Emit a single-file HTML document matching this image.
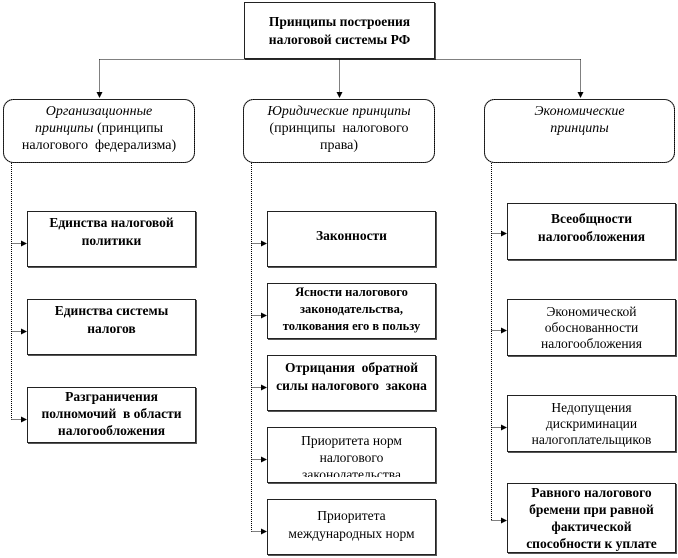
<!DOCTYPE html>
<html><head><meta charset="utf-8">
<style>
body{margin:0;width:678px;height:558px;background:#fff;position:relative;overflow:hidden;font-family:"Liberation Serif","DejaVu Serif",serif;color:#000}
.t{position:absolute;display:flex;align-items:center;justify-content:center;text-align:center;font-size:13px;line-height:16px;overflow:hidden;font-family:"Liberation Serif","DejaVu Serif",serif}
.b{font-weight:bold;font-size:13.5px}
.i{font-style:italic}
svg{position:absolute;left:0;top:0}
</style></head><body>
<svg width="678" height="558" viewBox="0 0 678 558">
<defs><marker id="a" markerWidth="6" markerHeight="6" refX="5" refY="3" orient="auto" markerUnits="userSpaceOnUse"><path d="M0,0L6,3L0,6z" fill="#000"/></marker></defs>
<g fill="#555">
<rect x="245" y="3" width="191" height="57"/>
<rect x="28" y="212" width="169" height="56"/><rect x="28" y="300" width="169" height="56"/><rect x="28" y="388" width="169" height="56"/>
<rect x="268" y="212" width="169" height="56"/><rect x="268" y="284" width="169" height="56"/><rect x="268" y="356" width="169" height="56"/><rect x="268" y="428" width="169" height="56"/><rect x="268" y="500" width="169" height="56"/>
<rect x="508" y="204" width="169" height="57"/><rect x="508" y="300" width="169" height="57"/><rect x="508" y="396" width="169" height="57"/><rect x="508" y="484" width="169" height="70"/>
</g>
<g fill="#fff" stroke="#444" stroke-width="1">
<rect x="244.5" y="2.5" width="190" height="56"/>
<rect x="3.5" y="99.5" width="191" height="63" rx="10"/>
<rect x="243.5" y="99.5" width="191" height="63" rx="10"/>
<rect x="484.5" y="99.5" width="190" height="63" rx="10"/>
<rect x="27.5" y="211.5" width="168" height="55"/><rect x="27.5" y="299.5" width="168" height="55"/><rect x="27.5" y="387.5" width="168" height="55"/>
<rect x="267.5" y="211.5" width="168" height="55"/><rect x="267.5" y="283.5" width="168" height="55"/><rect x="267.5" y="355.5" width="168" height="55"/><rect x="267.5" y="427.5" width="168" height="55"/><rect x="267.5" y="499.5" width="168" height="55"/>
<rect x="507.5" y="203.5" width="168" height="56"/><rect x="507.5" y="299.5" width="168" height="56"/><rect x="507.5" y="395.5" width="168" height="56"/><rect x="507.5" y="483.5" width="168" height="69"/>
</g>
<g fill="none" stroke="#000" stroke-width="1" stroke-dasharray="1,1">
<rect x="244.5" y="2.5" width="190" height="56"/>
<rect x="3.5" y="99.5" width="191" height="63" rx="10"/>
<rect x="243.5" y="99.5" width="191" height="63" rx="10"/>
<rect x="484.5" y="99.5" width="190" height="63" rx="10"/>
<rect x="27.5" y="211.5" width="168" height="55"/><rect x="27.5" y="299.5" width="168" height="55"/><rect x="27.5" y="387.5" width="168" height="55"/>
<rect x="267.5" y="211.5" width="168" height="55"/><rect x="267.5" y="283.5" width="168" height="55"/><rect x="267.5" y="355.5" width="168" height="55"/><rect x="267.5" y="427.5" width="168" height="55"/><rect x="267.5" y="499.5" width="168" height="55"/>
<rect x="507.5" y="203.5" width="168" height="56"/><rect x="507.5" y="299.5" width="168" height="56"/><rect x="507.5" y="395.5" width="168" height="56"/><rect x="507.5" y="483.5" width="168" height="69"/>
</g>
<g fill="none" stroke="#000" stroke-width="1" stroke-dasharray="1,1">
<path d="M99.5,59.5H580.5"/>
<path d="M99.5,59.5V97" marker-end="url(#a)"/>
<path d="M339.5,59.5V97" marker-end="url(#a)"/>
<path d="M580.5,59.5V97" marker-end="url(#a)"/>
<path d="M11.5,163V419.5"/>
<path d="M11.5,243.5H26" marker-end="url(#a)"/><path d="M11.5,331.5H26" marker-end="url(#a)"/><path d="M11.5,419.5H26" marker-end="url(#a)"/>
<path d="M251.5,163V531.5"/>
<path d="M251.5,243.5H266" marker-end="url(#a)"/><path d="M251.5,315.5H266" marker-end="url(#a)"/><path d="M251.5,387.5H266" marker-end="url(#a)"/><path d="M251.5,459.5H266" marker-end="url(#a)"/><path d="M251.5,531.5H266" marker-end="url(#a)"/>
<path d="M491.5,163V520.5"/>
<path d="M491.5,233.5H506" marker-end="url(#a)"/><path d="M491.5,330.5H506" marker-end="url(#a)"/><path d="M491.5,427.5H506" marker-end="url(#a)"/><path d="M491.5,520.5H506" marker-end="url(#a)"/>
</g>
</svg>
<div class="t b" style="left:245px;top:3px;width:189px;height:55px;line-height:18px">Принципы построения<br>налоговой системы РФ</div>
<div class="t" style="left:4px;top:100px;width:190px;height:62px;font-size:14px;line-height:17px;align-items:flex-start"><div style="padding-top:3px"><span class="i">Организационные<br>принципы</span> (принципы<br>налогового&nbsp; федерализма)</div></div>
<div class="t" style="left:244px;top:100px;width:190px;height:62px;font-size:14px;line-height:17px;align-items:flex-start"><div style="padding-top:3px"><span class="i">Юридические принципы</span><br>(принципы&nbsp; налогового<br>права)</div></div>
<div class="t i" style="left:485px;top:100px;width:189px;height:62px;font-size:14px;line-height:17px;align-items:flex-start"><div style="padding-top:3px">Экономические<br>принципы</div></div>

<div class="t b" style="left:28px;top:212px;width:167px;height:40px;line-height:18px">Единства налоговой<br>политики</div>
<div class="t b" style="left:28px;top:300px;width:167px;height:40px;line-height:18px">Единства системы<br>налогов</div>
<div class="t b" style="left:28px;top:388px;width:167px;height:50px;line-height:17px;align-items:flex-start">Разграничения<br>полномочий&nbsp; в области<br>налогообложения</div>

<div class="t b" style="left:268px;top:212px;width:167px;height:48px">Законности</div>
<div class="t b" style="left:268px;top:284px;width:167px;height:52px;line-height:17px;align-items:flex-start;font-size:12.5px">Ясности налогового<br>законодательства,<br>толкования его в пользу</div>
<div class="t b" style="left:268px;top:356px;width:167px;height:42px;line-height:18px">Отрицания&nbsp; обратной<br>силы налогового&nbsp; закона</div>
<div class="t" style="left:268px;top:428px;width:167px;height:49px;line-height:17px;font-size:13.5px;align-items:flex-start"><div style="padding-top:4px">Приоритета норм<br>налогового<br>законодательства</div></div>
<div class="t" style="left:268px;top:500px;width:167px;height:54px;line-height:18px;font-size:13.5px;align-items:flex-start"><div style="padding-top:7px">Приоритета<br>международных норм</div></div>

<div class="t b" style="left:508px;top:204px;width:167px;height:48px;line-height:18px">Всеобщности<br>налогообложения</div>
<div class="t" style="left:508px;top:300px;width:167px;height:55px;line-height:16px;font-size:13.5px">Экономической<br>обоснованности<br>налогообложения</div>
<div class="t" style="left:508px;top:396px;width:167px;height:55px;line-height:16px;font-size:13.5px">Недопущения<br>дискриминации<br>налогоплательщиков</div>
<div class="t b" style="left:508px;top:484px;width:167px;height:68px;line-height:17px">Равного налогового<br>бремени при равной<br>фактической<br>способности к уплате</div>
</body></html>
